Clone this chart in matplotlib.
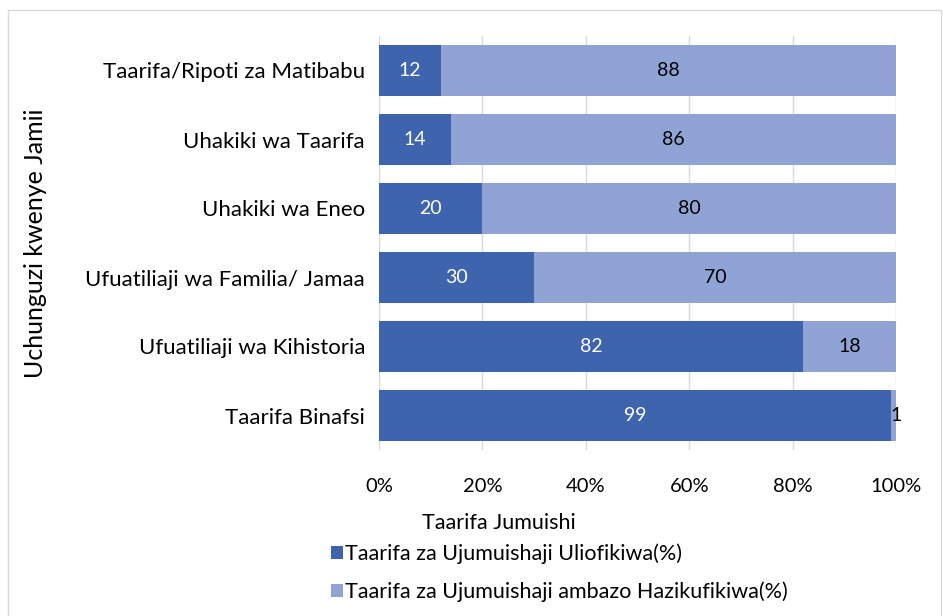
import matplotlib.pyplot as plt
from matplotlib.patches import Rectangle

plt.rcParams['font.family'] = ['Lato', 'DejaVu Sans']

# data
categories = ['Taarifa/Ripoti za Matibabu', 'Uhakiki wa Taarifa', 'Uhakiki wa Eneo',
              'Ufuatiliaji wa Familia/ Jamaa', 'Ufuatiliaji wa Kihistoria', 'Taarifa Binafsi']
reached = [12, 14, 20, 30, 82, 99]
not_reached = [88, 86, 80, 70, 18, 1]
series_names = ['Taarifa za Ujumuishaji Uliofikiwa(%)',
                'Taarifa za Ujumuishaji ambazo Hazikufikiwa(%)']
xticks = [0, 20, 40, 60, 80, 100]

dark = '#3D64AD'
light = '#8FA4D5'

fig = plt.figure(figsize=(9.43, 6.16), dpi=100)
ax = fig.add_axes([379/943, 1 - 450/616, (896-379)/943, 414/616])

y = range(len(categories))
b1 = ax.barh(y, reached, height=0.75, color=dark, zorder=3)
b2 = ax.barh(y, not_reached, left=reached, height=0.75, color=light, zorder=3)

# value labels
for i in y:
    ax.text(reached[i]/2, i, str(reached[i]), ha='center', va='center',
            color='white', fontsize=14, zorder=4)
    if not_reached[i] > 3:
        ax.text(reached[i] + not_reached[i]/2, i, str(not_reached[i]), ha='center',
                va='center', color='black', fontsize=14, zorder=4)
    else:
        ax.text(reached[i], i, str(not_reached[i]), ha='left',
                va='center', color='black', fontsize=14, zorder=4)

ax.set_xlim(0, 100)
ax.set_ylim(-0.5, len(categories) - 0.5)
ax.invert_yaxis()
ax.set_yticks(list(y))
ax.set_yticklabels(categories, fontsize=16)
ax.set_xticks(xticks)
ax.set_xticklabels([f'{t}%' for t in xticks], fontsize=14.5)
ax.tick_params(length=0, pad=10)
ax.tick_params(axis='x', pad=20)
ax.grid(axis='x', color='#D9D9D9', linewidth=1, zorder=0)
for s in ax.spines.values():
    s.set_visible(False)

ax.set_ylabel('Uchunguzi kwenye Jamii', fontsize=18)
ax.yaxis.set_label_coords(-(379-47)/517, 0.5)
fig.text(499/943, 1 - 523/616, 'Taarifa Jumuishi', ha='center', va='center', fontsize=15.5)

ax.legend([b1, b2], series_names, loc='center left', bbox_to_anchor=(331/943, 1 - 573/616),
          bbox_transform=fig.transFigure, frameon=False, fontsize=15.5,
          handlelength=0.55, handleheight=0.55, handletextpad=0.1, labelspacing=0.8,
          borderaxespad=0, borderpad=0)

fig.patches.append(Rectangle((8/943, -0.01), (941-8)/943, 1 - 10/616 + 0.01,
                             transform=fig.transFigure, fill=False,
                             edgecolor='#D9D9D9', linewidth=1))

fig.savefig('out.png', dpi=100)
